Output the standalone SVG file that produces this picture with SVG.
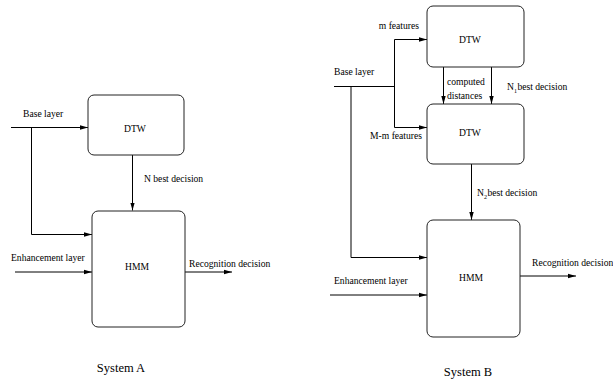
<svg xmlns="http://www.w3.org/2000/svg" width="613" height="379" viewBox="0 0 613 379">
<style>
  .box { fill: #ffffff; stroke: #222222; stroke-width: 1; }
  .ln { fill: none; stroke: #000000; stroke-width: 1; }
  .t { font-family: "Liberation Serif", "Times New Roman", serif; font-size: 9.6px; fill: #000000; }
  .c { text-anchor: middle; }
  .sub { font-size: 6px; }
  .cap { font-family: "Liberation Serif", "Times New Roman", serif; font-size: 12.5px; fill: #000000; text-anchor: middle; }
</style>
<defs>
  <marker id="arr" markerUnits="userSpaceOnUse" markerWidth="9" markerHeight="6" refX="8" refY="3" orient="auto">
    <path d="M0,0.8 L8,3 L0,5.2 z" fill="#000000"/>
  </marker>
</defs>
<rect width="613" height="379" fill="#ffffff"/>

<g id="connectors">
  <!-- System A -->
  <path class="ln" d="M11,127.5 H88" marker-end="url(#arr)"/>
  <path class="ln" d="M31.5,127.5 V234.5 H92" marker-end="url(#arr)"/>
  <path class="ln" d="M132.5,155 V210.5" marker-end="url(#arr)"/>
  <path class="ln" d="M15,272 H92" marker-end="url(#arr)"/>
  <path class="ln" d="M185,272 H232" marker-end="url(#arr)"/>
  <!-- System B -->
  <path class="ln" d="M334,86.5 H394.5"/>
  <path class="ln" d="M394.5,39.5 V127.5"/>
  <path class="ln" d="M394.5,39.5 H427" marker-end="url(#arr)"/>
  <path class="ln" d="M394.5,127.5 H427" marker-end="url(#arr)"/>
  <path class="ln" d="M351,86.5 V257.5 H427" marker-end="url(#arr)"/>
  <path class="ln" d="M443.5,67 V104" marker-end="url(#arr)"/>
  <path class="ln" d="M491.5,67 V104" marker-end="url(#arr)"/>
  <path class="ln" d="M471.5,164 V220" marker-end="url(#arr)"/>
  <path class="ln" d="M330,295 H427" marker-end="url(#arr)"/>
  <path class="ln" d="M520,276 H576" marker-end="url(#arr)"/>
</g>

<g id="labels">
  <text class="t" x="23" y="117">Base layer</text>
  <text class="t" x="144" y="182">N best decision</text>
  <text class="t" x="11" y="261">Enhancement layer</text>
  <text class="t" x="189" y="267">Recognition decision</text>

  <text class="t" x="419" y="29" text-anchor="end">m features</text>
  <text class="t" x="334" y="75">Base layer</text>
  <text class="t" x="447" y="85">computed</text>
  <text class="t" x="447" y="99">distances</text>
  <text class="t" x="507" y="90">N<tspan class="sub" dy="3">1</tspan><tspan dy="-3" dx="0.5">best decision</tspan></text>
  <text class="t" x="422" y="139" text-anchor="end">M-m features</text>
  <text class="t" x="477" y="196">N<tspan class="sub" dy="3">2</tspan><tspan dy="-3" dx="0.5">best decision</tspan></text>
  <text class="t" x="334" y="284">Enhancement layer</text>
  <text class="t" x="532" y="266">Recognition decision</text>

  <text class="cap" x="121" y="372">System A</text>
  <text class="cap" x="468" y="376">System B</text>
</g>

<g id="A-DTW">
  <rect class="box" x="88" y="95" width="96" height="60" rx="6"/>
  <text class="t c" x="135" y="132">DTW</text>
</g>
<g id="A-HMM">
  <rect class="box" x="92" y="211" width="93" height="116" rx="6"/>
  <text class="t c" x="137" y="270">HMM</text>
</g>
<g id="B-DTW1">
  <rect class="box" x="427" y="6" width="97" height="61" rx="6"/>
  <text class="t c" x="470" y="43">DTW</text>
</g>
<g id="B-DTW2">
  <rect class="box" x="427" y="104" width="97" height="60" rx="6"/>
  <text class="t c" x="470" y="136">DTW</text>
</g>
<g id="B-HMM">
  <rect class="box" x="427" y="220" width="93" height="117" rx="6"/>
  <text class="t c" x="471" y="281">HMM</text>
</g>
</svg>
